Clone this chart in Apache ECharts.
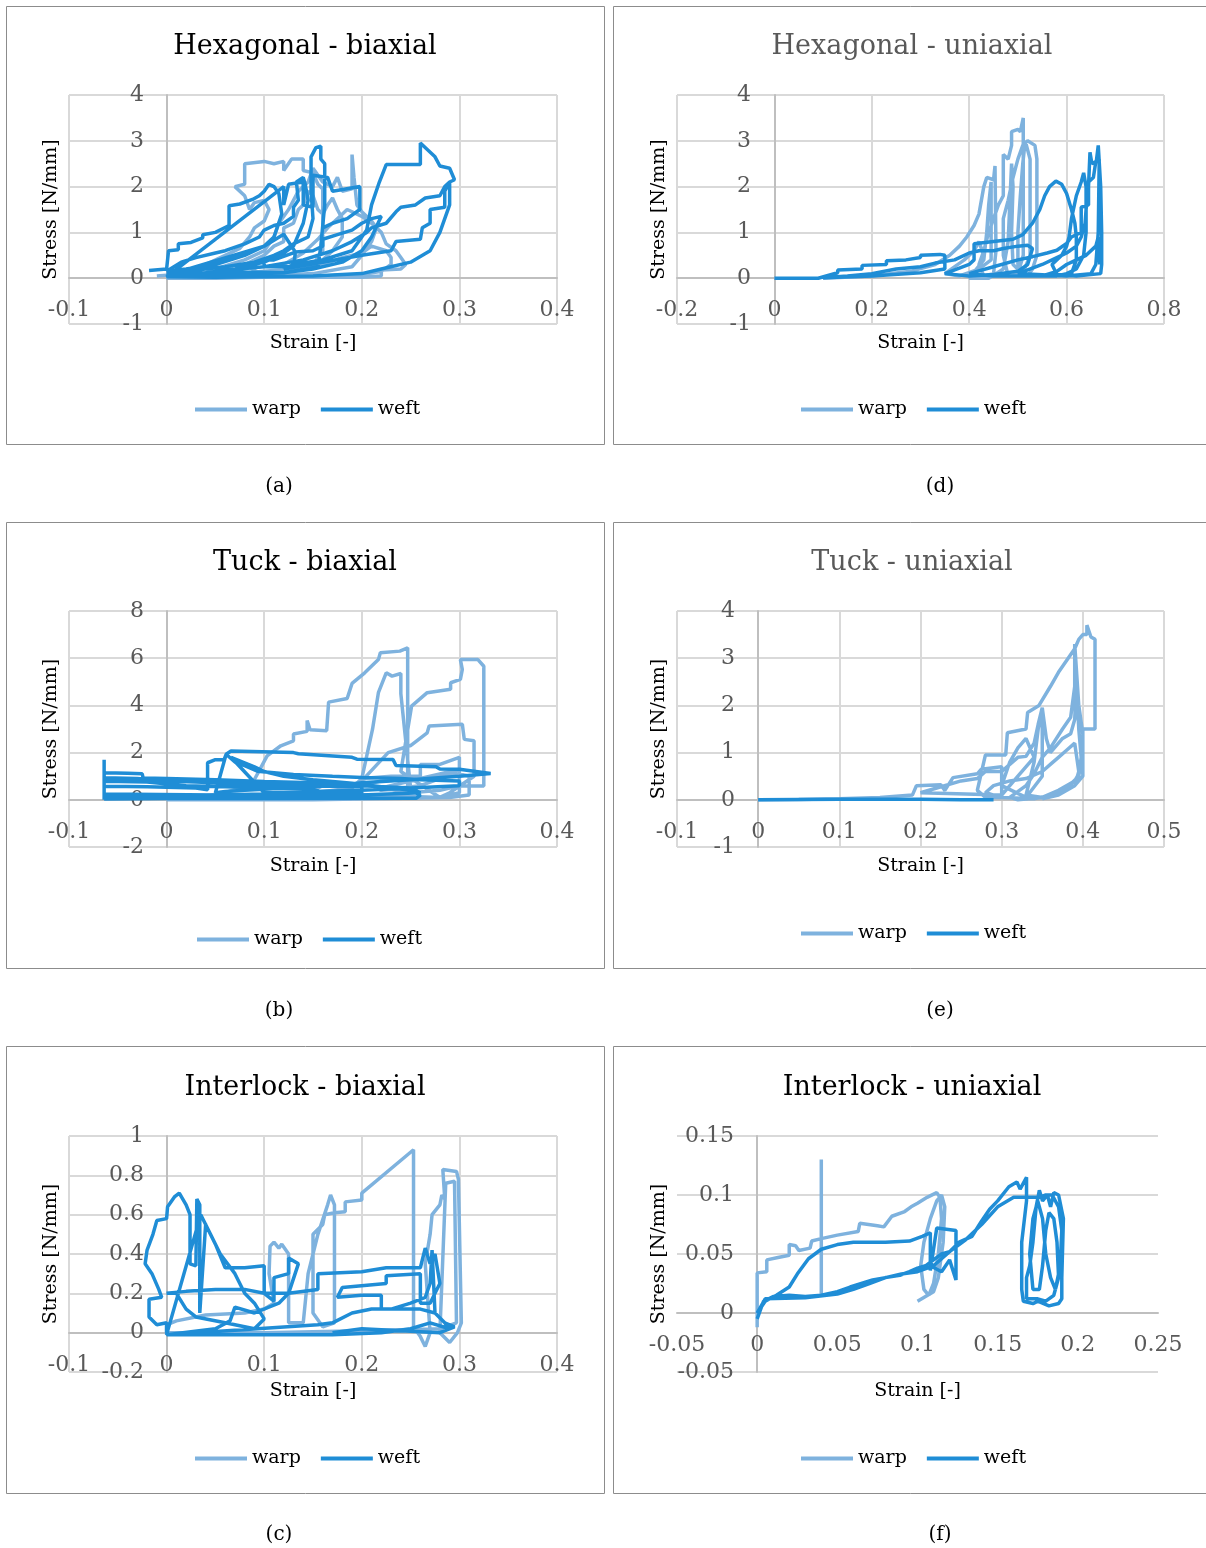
<!DOCTYPE html>
<html>
<head>
<meta charset="utf-8">
<script src="https://cdn.jsdelivr.net/npm/echarts@6/dist/echarts.min.js"></script>
<style>
html,body{margin:0;padding:0;background:#fff;}
#chart{width:1206px;height:1548px;}
</style>
</head>
<body>
<div id="chart"></div>
<script>
// ---------- DATA (strain, stress) ----------
const seriesNames = ['warp', 'weft'];
const panelTitles = ['Hexagonal - biaxial', 'Hexagonal - uniaxial', 'Tuck - biaxial', 'Tuck - uniaxial', 'Interlock - biaxial', 'Interlock - uniaxial'];
const panelCaptions = ['(a)', '(d)', '(b)', '(e)', '(c)', '(f)'];
const xAxisTitle = 'Strain [-]';
const yAxisTitle = 'Stress [N/mm]';

// axis ranges: [min, max, interval]
const hexBiX = [-0.1, 0.4, 0.1], hexBiY = [-1, 4, 1];
const hexUniX = [-0.2, 0.8, 0.2], hexUniY = [-1, 4, 1];
const tuckBiX = [-0.1, 0.4, 0.1], tuckBiY = [-2, 8, 2];
const tuckUniX = [-0.1, 0.5, 0.1], tuckUniY = [-1, 4, 1];
const interBiX = [-0.1, 0.4, 0.1], interBiY = [-0.2, 1, 0.2];
const interUniX = [-0.05, 0.25, 0.05], interUniY = [-0.05, 0.15, 0.05];

const hexBiWarp = [[-0.01,0.05],[0.02,0.1],[0.04,0.3],[0.06,0.5],[0.075,0.65],[0.085,0.9],[0.09,1.1],[0.1,1.25],[0.105,1.5],[0.1,1.7],[0.09,1.65],[0.085,1.5],[0.08,1.8],[0.07,2.0],[0.08,2.05],[0.08,2.5],[0.1,2.55],[0.11,2.5],[0.12,2.55],[0.12,2.35],[0.128,2.6],[0.14,2.6],[0.14,2.35],[0.15,2.3],[0.155,2.05],[0.16,1.95],[0.16,0.6],[0.15,0.3],[0.12,0.15],[0.08,0.08],[0.03,0.05],
[0.05,0.2],[0.08,0.4],[0.1,0.6],[0.11,0.9],[0.115,1.2],[0.125,1.5],[0.13,1.7],[0.135,1.9],[0.145,2.1],[0.15,2.4],[0.16,2.1],[0.17,2.0],[0.175,2.2],[0.18,1.9],[0.19,1.95],[0.19,2.7],[0.192,2.2],[0.195,1.6],[0.2,1.45],[0.21,1.25],[0.215,1.1],[0.21,0.8],[0.2,0.5],[0.19,0.25],[0.15,0.1],[0.1,0.05],
[0.08,0.3],[0.1,0.5],[0.11,0.7],[0.12,0.8],[0.12,1.1],[0.13,1.2],[0.135,1.5],[0.14,1.6],[0.145,1.9],[0.15,1.8],[0.155,1.5],[0.16,1.4],[0.165,1.6],[0.17,1.75],[0.175,1.5],[0.18,1.3],[0.18,0.9],[0.17,0.6],[0.16,0.4],[0.14,0.25],[0.12,0.2],
[0.12,0.3],[0.14,0.55],[0.155,0.85],[0.165,1.1],[0.175,1.3],[0.185,1.5],[0.2,1.35],[0.21,1.2],[0.22,1.0],[0.225,0.75],[0.235,0.6],[0.24,0.45],[0.245,0.3],[0.24,0.2],[0.22,0.18],[0.22,0.05],[0.2,0.02],[0.15,0.02],[0.1,0.02],[0.05,0.0],[0.0,0.0],
[0.03,0.05],[0.07,0.1],[0.1,0.15],[0.13,0.2],[0.16,0.3],[0.18,0.45],[0.2,0.55],[0.21,0.7],[0.225,0.6],[0.23,0.45],[0.23,0.3],[0.22,0.15],[0.2,0.08],[0.16,0.05],[0.12,0.03],[0.08,0.02],[0.04,0.01]];
const hexBiWeft = [[-0.018,0.17],[0.0,0.2],[0.002,0.6],[0.012,0.62],[0.012,0.75],[0.025,0.78],[0.037,0.88],[0.037,0.95],[0.05,1.0],[0.064,1.15],[0.064,1.58],[0.075,1.62],[0.088,1.72],[0.095,1.8],[0.1,1.9],[0.105,2.05],[0.11,2.0],[0.115,1.85],[0.118,1.4],[0.11,0.9],[0.1,0.7],[0.08,0.5],[0.05,0.3],[0.02,0.2],[0.0,0.15],
[0.0,0.18],[0.015,0.35],[0.03,0.45],[0.05,0.55],[0.06,0.6],[0.08,0.75],[0.095,0.9],[0.1,1.05],[0.11,1.15],[0.12,1.2],[0.13,1.35],[0.13,1.55],[0.135,1.7],[0.133,2.1],[0.14,2.2],[0.142,2.05],[0.145,1.7],[0.14,1.2],[0.13,0.7],[0.12,0.55],[0.1,0.35],[0.07,0.2],[0.04,0.12],[0.0,0.1],
[0.02,0.15],[0.06,0.25],[0.09,0.35],[0.11,0.5],[0.12,0.6],[0.13,0.75],[0.145,0.9],[0.15,1.3],[0.148,1.9],[0.148,2.65],[0.153,2.85],[0.158,2.88],[0.158,2.6],[0.162,2.5],[0.162,1.6],[0.158,0.7],[0.155,0.25],[0.12,0.12],[0.06,0.08],[0.0,0.06],
[0.1,0.7],[0.12,0.96],[0.132,0.57],[0.11,0.4],[0.1,0.4],[0.1,0.25],[0.13,0.25],[0.132,0.57],[0.15,0.6],[0.16,0.7],[0.16,0.85],[0.175,0.95],[0.19,1.05],[0.2,1.2],[0.21,1.3],[0.22,1.35],[0.21,0.9],[0.2,0.6],[0.18,0.35],[0.15,0.2],[0.12,0.12],
[0.05,0.15],[0.1,0.25],[0.14,0.4],[0.17,0.6],[0.19,0.8],[0.205,1.0],[0.21,1.1],[0.225,1.2],[0.235,1.45],[0.24,1.55],[0.255,1.6],[0.265,1.75],[0.28,1.8],[0.285,2.0],[0.29,2.1],[0.295,2.15],[0.29,2.4],[0.28,2.45],[0.275,2.65],[0.26,2.95],[0.26,2.48],[0.225,2.48],[0.218,2.1],[0.21,1.6],[0.205,1.05],[0.2,0.9],[0.19,0.6],[0.16,0.4],[0.13,0.3],
[0.12,0.2],[0.16,0.35],[0.2,0.5],[0.23,0.6],[0.235,0.8],[0.26,0.85],[0.262,1.1],[0.27,1.2],[0.27,1.5],[0.285,1.55],[0.285,1.9],[0.29,2.1],[0.29,1.6],[0.28,1.0],[0.27,0.6],[0.25,0.35],[0.22,0.2],[0.2,0.1],[0.15,0.05],[0.1,0.03],[0.05,0.02],[0.0,0.03],
[0.12,2.0],[0.12,1.6],[0.125,2.05],[0.14,2.1],[0.14,1.6],[0.15,1.55],[0.15,2.25],[0.165,2.2],[0.17,1.9],[0.198,2.0],[0.198,1.5],[0.185,1.3],[0.17,1.2],[0.16,1.1]];

const hexUniWarp = [[0.1,0],[0.2,0.05],[0.28,0.15],[0.33,0.3],[0.36,0.5],[0.38,0.7],[0.395,0.9],[0.41,1.15],[0.42,1.4],[0.425,1.7],[0.43,2.0],[0.436,2.2],[0.45,2.15],[0.453,2.45],[0.455,0.6],[0.45,0.1],[0.43,0.05],[0.42,0.3],[0.43,0.6],[0.44,1.0],[0.45,1.3],[0.46,1.6],[0.47,1.8],[0.47,2.7],[0.48,2.6],[0.487,2.9],[0.487,3.2],[0.5,3.25],[0.505,3.2],[0.511,3.5],[0.511,0.5],[0.5,0.1],[0.48,0.05],[0.47,0.5],[0.47,1.3],[0.48,1.7],[0.49,2.2],[0.5,2.6],[0.51,2.9],[0.52,3.0],[0.535,2.9],[0.539,2.6],[0.539,0.5],[0.53,0.2],[0.52,0.05],[0.5,0.3],[0.5,1.0],[0.505,1.8],[0.51,2.5],[0.515,3.0],[0.525,2.6],[0.525,0.5],[0.51,0.1],[0.49,0.3],[0.487,1.0],[0.49,2.0],[0.487,2.5],[0.48,0.8],[0.47,0.2],[0.455,0.1],[0.44,0.0],[0.4,0.0],[0.43,0.4],[0.436,1.0],[0.44,1.6],[0.445,2.1],[0.445,0.4],[0.42,0.2],[0.38,0.05],[0.35,0.1],[0.39,0.4],[0.41,0.6],[0.42,0.8],[0.43,0.5],[0.42,0.2],[0.4,0.1]];
const hexUniWeft = [[0,0],[0.09,0.0],[0.13,0.12],[0.13,0.18],[0.18,0.2],[0.18,0.28],[0.23,0.3],[0.23,0.38],[0.27,0.4],[0.3,0.45],[0.3,0.5],[0.34,0.52],[0.35,0.5],[0.35,0.2],[0.3,0.12],[0.2,0.05],[0.1,0.01],
[0.15,0.05],[0.2,0.1],[0.25,0.2],[0.3,0.25],[0.33,0.33],[0.37,0.4],[0.4,0.55],[0.42,0.6],[0.45,0.6],[0.47,0.65],[0.5,0.7],[0.52,0.72],[0.53,0.65],[0.52,0.3],[0.5,0.15],[0.45,0.08],[0.4,0.05],
[0.35,0.1],[0.4,0.3],[0.41,0.4],[0.41,0.75],[0.45,0.8],[0.49,0.85],[0.51,0.95],[0.53,1.2],[0.545,1.5],[0.555,1.8],[0.565,2.0],[0.578,2.12],[0.59,2.05],[0.6,1.85],[0.61,1.5],[0.617,1.2],[0.62,0.9],[0.62,0.4],[0.61,0.1],[0.57,0.05],[0.5,0.05],[0.45,0.05],
[0.4,0.1],[0.45,0.25],[0.5,0.4],[0.53,0.47],[0.56,0.55],[0.58,0.61],[0.6,0.76],[0.61,0.9],[0.63,1.0],[0.63,1.55],[0.645,1.6],[0.645,2.1],[0.655,2.2],[0.66,2.55],[0.667,2.6],[0.665,1.0],[0.66,0.3],[0.65,0.1],[0.6,0.05],
[0.5,0.1],[0.55,0.3],[0.58,0.45],[0.6,0.55],[0.62,0.7],[0.63,0.9],[0.638,1.2],[0.64,1.5],[0.645,2.0],[0.648,2.75],[0.652,2.5],[0.661,2.55],[0.665,2.9],[0.67,2.0],[0.672,1.0],[0.672,0.3],[0.67,0.1],[0.62,0.05],[0.58,0.08],[0.57,0.3],[0.59,0.5],[0.6,0.7],[0.605,0.9],[0.61,1.3],[0.62,1.8],[0.63,2.1],[0.635,2.3],[0.64,2.0],[0.64,1.0],[0.635,0.5],[0.62,0.2],[0.6,0.1],[0.58,0.05],[0.55,0.05],[0.58,0.15],[0.6,0.3],[0.62,0.4],[0.64,0.5],[0.66,0.7],[0.665,0.9],[0.668,0.3]];

const tuckBiWarp = [[0.0,0.0],[0.03,0.1],[0.06,0.3],[0.075,0.5],[0.09,0.86],[0.103,1.86],[0.117,2.29],[0.13,2.5],[0.13,2.79],[0.144,2.9],[0.144,3.36],[0.147,2.97],[0.164,2.93],[0.166,4.14],[0.185,4.29],[0.19,4.93],[0.203,5.38],[0.217,5.94],[0.219,6.23],[0.239,6.3],[0.241,6.37],[0.247,6.44],[0.247,0.17],[0.2,0.1],[0.15,0.3],[0.19,0.5],[0.2,0.9],[0.211,2.99],[0.217,4.54],[0.225,5.38],[0.231,5.24],[0.24,5.35],[0.24,4.5],[0.25,0.5],[0.22,0.4],[0.2,0.8],[0.227,2.0],[0.25,2.3],[0.267,2.84],[0.269,3.13],[0.303,3.2],[0.305,2.56],[0.315,2.5],[0.315,1.0],[0.29,0.3],[0.28,0.1],[0.24,1.2],[0.251,3.97],[0.267,4.54],[0.291,4.68],[0.291,4.96],[0.301,5.1],[0.303,5.52],[0.301,5.94],[0.319,5.94],[0.325,5.66],[0.325,0.59],[0.3,0.59],[0.28,0.4],[0.25,0.3],[0.22,0.5],[0.26,0.9],[0.28,1.1],[0.3,1.3],[0.3,0.3],[0.28,0.1],
[0.15,0.3],[0.19,0.5],[0.2,0.9],[0.23,1.0],[0.26,1.0],[0.26,1.5],[0.28,1.5],[0.3,1.8],[0.3,1.3],[0.28,0.9],[0.26,0.6],[0.24,0.5],[0.24,0.2],[0.2,0.1],
[0.14,0.2],[0.16,0.6],[0.2,0.6],[0.22,0.8],[0.26,0.9],[0.3,1.1],[0.31,1.0],[0.31,0.2],[0.29,0.1],[0.15,0.0],[0.1,0.0],[0.0,0.0]];
const tuckBiWeft = [[-0.064,0.0],[-0.064,1.7],[-0.064,1.15],[-0.04,1.13],[-0.025,1.1],[-0.024,0.92],[0.0,0.9],[0.05,0.85],[0.1,0.78],[0.15,0.72],[0.2,0.6],[0.25,0.5],[0.26,0.3],[0.2,0.2],[0.1,0.15],[0.0,0.1],[-0.064,0.1],
[-0.064,0.93],[-0.03,0.9],[0.0,0.8],[0.03,0.75],[0.06,0.7],[0.1,0.65],[0.15,0.58],[0.2,0.55],[0.2,0.3],[0.15,0.25],[0.1,0.2],[0.05,0.15],[-0.064,0.15],
[-0.064,0.79],[-0.02,0.75],[0.02,0.6],[0.06,0.55],[0.1,0.5],[0.15,0.45],[0.16,0.3],[0.1,0.25],[0.05,0.2],[-0.064,0.25],[-0.064,0.57],[-0.02,0.55],[0.03,0.5],[0.042,0.43],[0.042,1.0],[0.042,1.57],[0.05,1.7],[0.059,1.71],[0.061,1.93],[0.066,2.07],[0.13,2.0],[0.135,1.95],[0.19,1.8],[0.195,1.72],[0.232,1.71],[0.235,1.45],[0.276,1.4],[0.28,1.3],[0.3,1.29],[0.332,1.11],[0.3,1.0],[0.25,0.85],[0.2,0.72],[0.17,0.6],[0.13,0.55],[0.1,0.45],[0.08,0.4],[0.06,0.35],[0.05,0.3],
[0.061,1.93],[0.07,1.6],[0.08,1.45],[0.093,1.21],[0.13,1.07],[0.17,1.0],[0.2,0.95],[0.24,0.9],[0.26,0.85],[0.3,0.8],[0.3,0.6],[0.25,0.5],[0.2,0.4],[0.15,0.35],[0.1,0.3],[0.066,1.8],[0.09,1.4],[0.1,1.2],[0.12,1.0],[0.15,0.85],[0.19,0.7],[0.22,0.55],[0.25,0.4],[0.26,0.2],[0.256,0.07],[0.2,0.07],[0.1,0.05],[0.0,0.05],[-0.064,0.03]];

const tuckUniWarp = [[0,0],[0.05,0.005],[0.1,0.02],[0.15,0.05],[0.19,0.1],[0.195,0.3],[0.225,0.32],[0.23,0.2],[0.24,0.47],[0.27,0.55],[0.275,0.65],[0.3,0.7],[0.3,0.05],[0.28,0.05],[0.27,0.2],[0.28,0.95],[0.305,0.95],[0.307,1.42],[0.33,1.5],[0.332,1.85],[0.346,2.0],[0.36,2.4],[0.37,2.7],[0.38,2.95],[0.39,3.2],[0.395,3.4],[0.4,3.5],[0.405,3.5],[0.405,3.7],[0.41,3.45],[0.415,3.4],[0.415,1.5],[0.4,1.5],[0.4,0.5],[0.39,0.3],[0.37,0.15],[0.35,0.05],[0.32,0.0],[0.31,0.05],[0.33,0.3],[0.34,0.55],[0.35,0.9],[0.36,1.1],[0.375,1.5],[0.385,1.75],[0.39,2.4],[0.39,3.3],[0.395,2.0],[0.4,1.4],[0.4,0.7],[0.39,0.4],[0.37,0.2],[0.35,0.05],[0.33,0.1],[0.34,0.8],[0.345,1.5],[0.35,1.9],[0.35,0.5],[0.33,0.05],[0.3,0.3],[0.31,0.8],[0.32,1.1],[0.33,1.3],[0.34,0.9],[0.32,0.5],[0.3,0.1],
[0.2,0.15],[0.22,0.25],[0.25,0.4],[0.27,0.45],[0.28,0.6],[0.3,0.6],[0.31,0.75],[0.32,0.9],[0.33,0.92],[0.34,1.2],[0.345,1.6],[0.35,1.95],[0.355,1.3],[0.36,1.0],[0.375,1.3],[0.385,1.4],[0.39,1.7],[0.392,2.5],[0.395,1.5],[0.398,0.9],[0.395,0.5],[0.38,0.25],[0.36,0.1],[0.34,0.02],[0.3,0.05],[0.28,0.15],[0.29,0.3],[0.31,0.4],[0.33,0.45],[0.35,0.6],[0.36,0.75],[0.37,0.9],[0.38,1.05],[0.39,1.2],[0.395,0.6],[0.39,0.3],[0.37,0.1],[0.35,0.02]];
const tuckUniWeft = [[0,0],[0.05,0.005],[0.1,0.01],[0.15,0.01],[0.2,0.01],[0.25,0.0],[0.29,0.0]];

const interBiWarp = [[0.0,-0.01],[0.0,0.04],[0.01,0.06],[0.04,0.09],[0.08,0.1],[0.1,0.12],[0.11,0.15],[0.105,0.3],[0.106,0.44],[0.11,0.46],[0.115,0.43],[0.118,0.45],[0.125,0.4],[0.125,0.05],[0.14,0.05],[0.145,0.3],[0.15,0.4],[0.155,0.5],[0.165,0.65],[0.168,0.7],[0.172,0.65],[0.172,0.05],[0.16,0.03],[0.15,0.1],[0.15,0.5],[0.16,0.55],[0.162,0.6],[0.172,0.61],[0.183,0.615],[0.183,0.665],[0.2,0.675],[0.2,0.71],[0.253,0.93],[0.253,0.03],[0.26,-0.02],[0.265,-0.07],[0.27,0.0],[0.265,0.35],[0.27,0.5],[0.272,0.6],[0.28,0.65],[0.282,0.7],[0.285,0.68],[0.283,0.83],[0.297,0.82],[0.299,0.78],[0.302,0.05],[0.298,0.0],[0.29,-0.05],[0.28,0.0],[0.286,0.76],[0.295,0.77],[0.297,0.05],[0.28,0.02],[0.2,0.01],[0.1,0.0],[0.0,0.0]];
const interBiWeft = [[0.0,0.0],[0.0,0.05],[-0.01,0.04],[-0.018,0.08],[-0.018,0.17],[-0.005,0.18],[-0.008,0.22],[-0.015,0.3],[-0.022,0.35],[-0.02,0.42],[-0.014,0.5],[-0.01,0.57],[0.0,0.58],[0.001,0.64],[0.008,0.69],[0.013,0.71],[0.02,0.65],[0.024,0.6],[0.024,0.35],[0.03,0.34],[0.031,0.68],[0.034,0.65],[0.034,0.1],[0.04,0.55],[0.05,0.45],[0.06,0.33],[0.08,0.33],[0.1,0.34],[0.1,0.2],[0.11,0.16],[0.11,0.28],[0.125,0.3],[0.125,0.38],[0.135,0.35],[0.125,0.2],[0.115,0.15],[0.09,0.1],[0.07,0.13],[0.065,0.06],[0.05,0.02],[0.0,-0.01],
[0.035,0.6],[0.045,0.5],[0.055,0.4],[0.07,0.3],[0.08,0.2],[0.09,0.15],[0.1,0.07],[0.09,0.02],[0.06,0.05],[0.03,0.08],[0.02,0.12],[0.01,0.2],[0.0,0.2],[0.02,0.21],[0.05,0.22],[0.08,0.22],[0.1,0.2],[0.125,0.2],[0.155,0.22],[0.155,0.3],[0.2,0.31],[0.225,0.33],[0.26,0.33],[0.265,0.43],[0.27,0.35],[0.275,0.4],[0.28,0.25],[0.275,0.2],[0.27,0.15],[0.26,0.15],[0.26,0.3],[0.225,0.29],[0.225,0.25],[0.18,0.23],[0.175,0.18],[0.2,0.19],[0.22,0.19],[0.22,0.12],[0.26,0.12],[0.275,0.1],[0.285,0.05],[0.29,0.02],[0.27,0.05],[0.25,0.02],[0.22,0.0],[0.17,-0.01],[0.1,-0.01],[0.05,-0.01],[0.0,-0.01],
[0.155,0.04],[0.17,0.05],[0.19,0.1],[0.21,0.12],[0.23,0.12],[0.25,0.15],[0.265,0.18],[0.27,0.25],[0.272,0.42],[0.275,0.1],[0.285,0.05],[0.295,0.03],[0.28,0.0],[0.2,0.02],[0.17,0.0]];

const interUniWarp = [[0,-0.012],[0,0.034],[0.006,0.035],[0.006,0.045],[0.013,0.047],[0.02,0.049],[0.02,0.058],[0.024,0.057],[0.026,0.053],[0.033,0.055],[0.034,0.061],[0.04,0.063],[0.04,0.13],[0.04,0.015],[0.04,0.063],[0.05,0.066],[0.063,0.069],[0.064,0.076],[0.075,0.074],[0.079,0.073],[0.084,0.082],[0.092,0.086],[0.096,0.09],[0.1,0.093],[0.106,0.098],[0.112,0.102],[0.114,0.098],[0.115,0.08],[0.113,0.05],[0.11,0.025],[0.107,0.015],[0.104,0.02],[0.102,0.04],[0.104,0.06],[0.108,0.08],[0.112,0.095],[0.115,0.1],[0.117,0.09],[0.116,0.06],[0.113,0.03],[0.11,0.018],[0.1,0.01]];
const interUniWeft = [[0,-0.005],[0.004,0.01],[0.01,0.014],[0.02,0.015],[0.03,0.014],[0.04,0.015],[0.05,0.018],[0.058,0.022],[0.065,0.025],[0.072,0.028],[0.08,0.03],[0.089,0.032],[0.095,0.035],[0.1,0.038],[0.105,0.04],[0.11,0.045],[0.115,0.05],[0.12,0.052],[0.126,0.06],[0.134,0.065],[0.14,0.078],[0.145,0.088],[0.15,0.095],[0.157,0.107],[0.162,0.111],[0.164,0.105],[0.168,0.115],[0.168,0.095],[0.165,0.06],[0.165,0.02],[0.166,0.01],[0.172,0.008],[0.175,0.01],[0.182,0.006],[0.188,0.008],[0.19,0.012],[0.19,0.03],[0.191,0.08],[0.188,0.1],[0.185,0.102],[0.183,0.09],[0.181,0.1],[0.178,0.095],[0.176,0.104],[0.174,0.09],[0.172,0.06],[0.17,0.04],[0.168,0.03],[0.168,0.012],[0.175,0.012],[0.18,0.01],[0.185,0.015],[0.188,0.03],[0.187,0.06],[0.185,0.08],[0.182,0.085],[0.18,0.07],[0.178,0.04],[0.176,0.02],[0.172,0.02],[0.17,0.05],[0.172,0.08],[0.175,0.095],[0.178,0.08],[0.18,0.05],[0.183,0.03],[0.186,0.02],[0.189,0.04],[0.19,0.07],[0.188,0.09],[0.184,0.1],[0.18,0.1],[0.176,0.098],[0.172,0.098],[0.165,0.098],[0.16,0.098],[0.15,0.09],[0.14,0.075],[0.13,0.062],[0.12,0.052],[0.11,0.04],[0.1,0.035],[0.09,0.033],[0.08,0.03],[0.07,0.025],[0.06,0.02],[0.05,0.016],[0.03,0.013],[0.005,0.012],[0.0,0.0],[0.005,0.01],[0.012,0.015],[0.02,0.022],[0.025,0.033],[0.032,0.046],[0.04,0.054],[0.05,0.058],[0.06,0.06],[0.08,0.06],[0.095,0.061],[0.103,0.065],[0.108,0.068],[0.108,0.036],[0.112,0.072],[0.124,0.07],[0.124,0.028],[0.12,0.045],[0.115,0.035],[0.108,0.04]];

// ---------- LAYOUT / STYLE ----------
const FONT = "'DejaVu Serif', serif";
const WARP_COLOR = '#7EB2DE';
const WEFT_COLOR = '#1F8DD6';

const panels = [
  {x: hexBiX,  y: hexBiY,  warp: hexBiWarp,  weft: hexBiWeft,  grid: [69, 95, 488, 229],  box: [6, 6, 598, 438],  titleColor: '#000', cx: 305, ty: 45, legend: [195, 400], cap: [279, 487], yLm: -75, xLm: -25, vgrid: true},
  {x: hexUniX, y: hexUniY, warp: hexUniWarp, weft: hexUniWeft, grid: [677, 95, 487, 229], box: [613, 6, 600, 438], titleColor: '#595959', cx: 912, ty: 45, legend: [801, 400], cap: [940, 487], yLm: -74, xLm: -25, vgrid: true},
  {x: tuckBiX, y: tuckBiY, warp: tuckBiWarp, weft: tuckBiWeft, grid: [69, 611, 488, 236], box: [6, 522, 598, 446], titleColor: '#000', cx: 305, ty: 561, legend: [197, 930], cap: [279, 1011], yLm: -75, xLm: -26, vgrid: true},
  {x: tuckUniX, y: tuckUniY, warp: tuckUniWarp, weft: tuckUniWeft, grid: [677, 611, 487, 236], box: [613, 522, 600, 446], titleColor: '#595959', cx: 912, ty: 561, legend: [801, 924], cap: [940, 1011], yLm: -58, xLm: -26, vgrid: true},
  {x: interBiX, y: interBiY, warp: interBiWarp, weft: interBiWeft, grid: [69, 1136, 488, 236], box: [6, 1046, 598, 447], titleColor: '#000', cx: 305, ty: 1086, legend: [195, 1449], cap: [279, 1535], yLm: -75, xLm: -18, vgrid: true},
  {x: interUniX, y: interUniY, warp: interUniWarp, weft: interUniWeft, grid: [677, 1136, 481, 236], box: [613, 1046, 600, 447], titleColor: '#000', cx: 912, ty: 1086, legend: [801, 1449], cap: [940, 1535], yLm: -57, xLm: -38, vgrid: false}
];

const option = {
  animation: false,
  backgroundColor: '#fff',
  title: [], grid: [], xAxis: [], yAxis: [], series: [], legend: [], graphic: []
};

panels.forEach((p, i) => {
  option.title.push({
    text: panelTitles[i], left: p.cx, top: p.ty - 12, textAlign: 'center', padding: 0,
    textStyle: {fontFamily: FONT, fontSize: 27, fontWeight: 'normal', color: p.titleColor}
  });
  option.grid.push({left: p.grid[0], top: p.grid[1], width: p.grid[2], height: p.grid[3], containLabel: false, outerBoundsMode: 'none'});
  option.xAxis.push({
    type: 'value', gridIndex: i, min: p.x[0], max: p.x[1], interval: p.x[2],
    name: xAxisTitle, nameLocation: 'middle', nameGap: 10,
    nameTextStyle: {fontFamily: FONT, fontSize: 19, color: '#000'},
    axisLine: {show: true, onZero: true, lineStyle: {color: '#BFBFBF', width: 2}},
    axisTick: {show: false},
    axisLabel: {fontFamily: FONT, fontSize: 22, color: '#595959', margin: p.xLm},
    splitLine: {show: p.vgrid, lineStyle: {color: '#D9D9D9', width: 2}}
  });
  option.yAxis.push({
    type: 'value', gridIndex: i, min: p.y[0], max: p.y[1], interval: p.y[2],
    name: yAxisTitle, nameLocation: 'middle', nameGap: 8,
    nameTextStyle: {fontFamily: FONT, fontSize: 19, color: '#000'},
    axisLine: {show: true, onZero: true, lineStyle: {color: '#BFBFBF', width: 2}},
    axisTick: {show: false},
    axisLabel: {fontFamily: FONT, fontSize: 22, color: '#595959', margin: p.yLm},
    splitLine: {show: true, lineStyle: {color: '#D9D9D9', width: 2}}
  });
  option.series.push({
    name: seriesNames[0], type: 'line', xAxisIndex: i, yAxisIndex: i, data: p.warp,
    symbol: 'none', showSymbol: false, color: WARP_COLOR, lineStyle: {width: 3.5, color: WARP_COLOR}, z: 2
  });
  option.series.push({
    name: seriesNames[1], type: 'line', xAxisIndex: i, yAxisIndex: i, data: p.weft,
    symbol: 'none', showSymbol: false, color: WEFT_COLOR, lineStyle: {width: 3.5, color: WEFT_COLOR}, z: 3
  });
  option.legend.push({
    data: seriesNames, left: p.legend[0], top: p.legend[1], icon: 'rect', itemWidth: 52, itemHeight: 4,
    itemGap: 20, padding: 0, selectedMode: false,
    textStyle: {fontFamily: FONT, fontSize: 19, color: '#000', padding: [0, 0, 0, 0]}
  });
  option.graphic.push({
    type: 'rect', silent: true, z: -1,
    shape: {x: p.box[0] + 0.5, y: p.box[1] + 0.5, width: p.box[2], height: p.box[3]},
    style: {fill: 'none', stroke: '#8C8C8C', lineWidth: 1}
  });
  option.graphic.push({
    type: 'text', silent: true, x: p.cap[0], y: p.cap[1],
    style: {text: panelCaptions[i], font: '20px ' + FONT, fill: '#000', align: 'center', verticalAlign: 'middle'}
  });
});

const chart = echarts.init(document.getElementById('chart'), null, {renderer: 'canvas'});
chart.setOption(option);
</script>
</body>
</html>
